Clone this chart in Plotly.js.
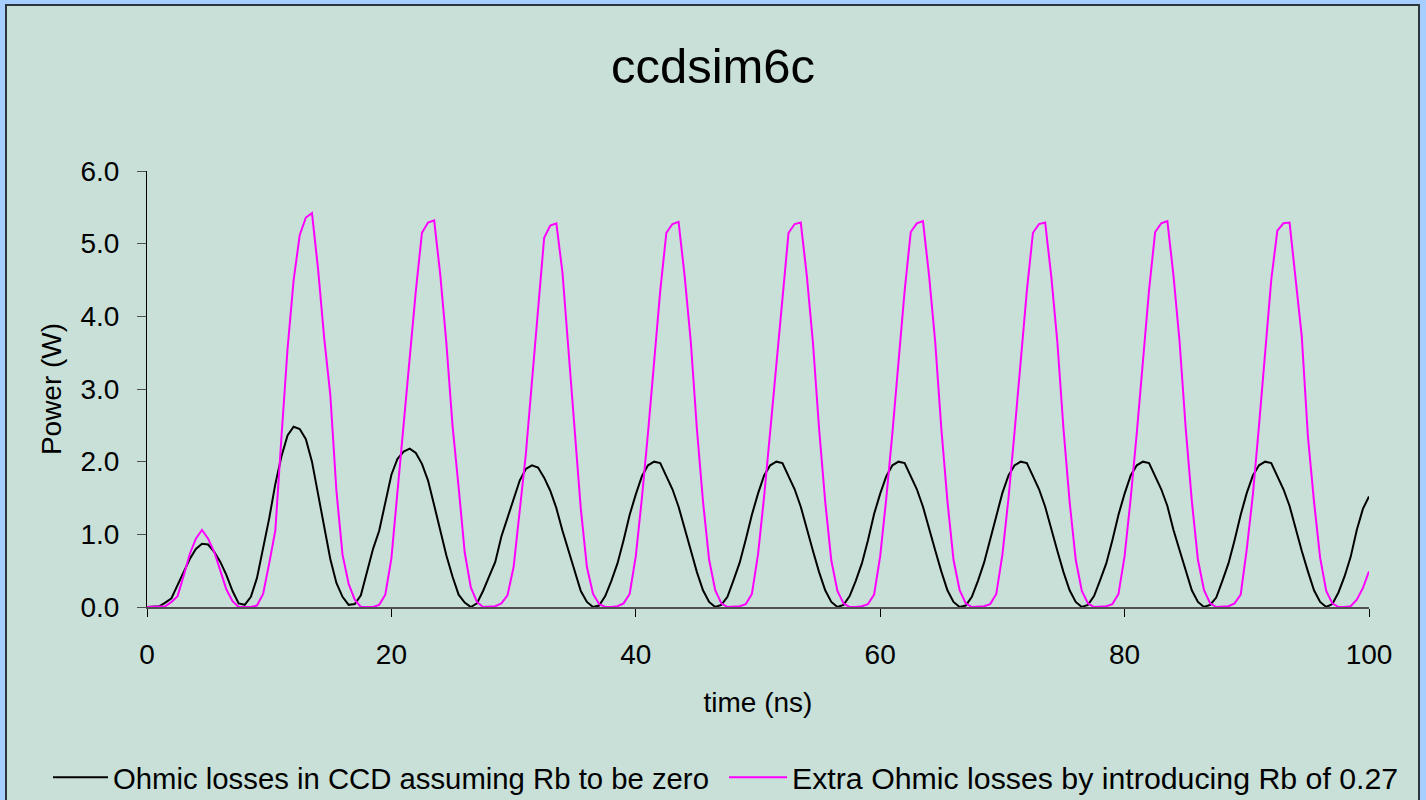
<!DOCTYPE html>
<html>
<head>
<meta charset="utf-8">
<script src="https://cdn.plot.ly/plotly-3.0.1.min.js"></script>
<style>
  html, body { margin: 0; padding: 0; background: #A6CFFF; }
  #chart { width: 1426px; height: 800px; }
</style>
</head>
<body>
<div id="chart"></div>
<script>
// time axis (ns)
const timeNs = [
  0,0.5,1,1.5,2,2.5,3,3.5,4,4.5,5,5.5,6,6.5,7,7.5,8,8.5,9,9.5,
  10,10.5,11,11.5,12,12.5,13,13.5,14,14.5,15,15.5,16,16.5,17,17.5,18,18.5,19,19.5,
  20,20.5,21,21.5,22,22.5,23,23.5,24,24.5,25,25.5,26,26.5,27,27.5,28,28.5,29,29.5,
  30,30.5,31,31.5,32,32.5,33,33.5,34,34.5,35,35.5,36,36.5,37,37.5,38,38.5,39,39.5,
  40,40.5,41,41.5,42,42.5,43,43.5,44,44.5,45,45.5,46,46.5,47,47.5,48,48.5,49,49.5,
  50,50.5,51,51.5,52,52.5,53,53.5,54,54.5,55,55.5,56,56.5,57,57.5,58,58.5,59,59.5,
  60,60.5,61,61.5,62,62.5,63,63.5,64,64.5,65,65.5,66,66.5,67,67.5,68,68.5,69,69.5,
  70,70.5,71,71.5,72,72.5,73,73.5,74,74.5,75,75.5,76,76.5,77,77.5,78,78.5,79,79.5,
  80,80.5,81,81.5,82,82.5,83,83.5,84,84.5,85,85.5,86,86.5,87,87.5,88,88.5,89,89.5,
  90,90.5,91,91.5,92,92.5,93,93.5,94,94.5,95,95.5,96,96.5,97,97.5,98,98.5,99,99.5,
  100
];

// Ohmic losses in CCD assuming Rb to be zero (W)
const ohmicZeroRb = [
  0,0,0.01,0.06,0.12,0.3,0.47,0.66,0.8,0.87,0.86,0.76,0.62,0.44,0.22,0.05,0.03,0.14,0.4,0.8,
  1.22,1.69,2.07,2.36,2.48,2.45,2.31,2.0,1.55,1.12,0.66,0.33,0.14,0.03,0.04,0.16,0.47,0.8,1.05,1.42,
  1.82,2.04,2.14,2.18,2.12,1.97,1.74,1.4,1.04,0.71,0.42,0.17,0.06,0.0,0.05,0.22,0.42,0.62,0.97,1.23,
  1.5,1.74,1.9,1.95,1.92,1.78,1.6,1.36,1.05,0.77,0.47,0.22,0.07,0.0,0.02,0.15,0.36,0.6,0.92,1.27,
  1.55,1.8,1.95,2.0,1.98,1.8,1.62,1.38,1.06,0.78,0.48,0.23,0.07,0.0,0.03,0.14,0.37,0.61,0.93,1.27,
  1.56,1.81,1.95,2.0,1.98,1.81,1.62,1.38,1.06,0.77,0.48,0.23,0.07,0.0,0.03,0.15,0.36,0.6,0.92,1.28,
  1.56,1.8,1.95,2.0,1.98,1.8,1.62,1.38,1.07,0.78,0.49,0.23,0.07,0.0,0.02,0.14,0.36,0.61,0.93,1.27,
  1.57,1.81,1.95,2.0,1.98,1.8,1.62,1.38,1.06,0.77,0.48,0.23,0.07,0.0,0.03,0.15,0.37,0.6,0.92,1.27,
  1.56,1.81,1.95,2.0,1.98,1.81,1.62,1.39,1.06,0.78,0.49,0.23,0.07,0.0,0.03,0.13,0.36,0.6,0.92,1.27,
  1.57,1.81,1.95,2.0,1.98,1.8,1.62,1.39,1.06,0.77,0.49,0.23,0.07,0.0,0.04,0.2,0.42,0.69,1.06,1.35,
  1.52
];

// Extra Ohmic losses by introducing Rb of 0.27 (W)
const extraOhmicRb = [
  0,0,0,0.01,0.07,0.15,0.43,0.73,0.94,1.06,0.94,0.76,0.5,0.24,0.08,0.0,0,0,0.02,0.18,
  0.6,1.05,2.33,3.55,4.5,5.12,5.36,5.42,4.65,3.7,2.92,1.6,0.72,0.32,0.1,0.0,0,0,0.03,0.17,
  0.67,1.6,2.6,3.43,4.35,5.15,5.29,5.32,4.57,3.63,2.5,1.65,0.75,0.27,0.07,0.0,0,0.01,0.05,0.16,
  0.55,1.3,2.1,3.1,4.1,5.08,5.25,5.28,4.6,3.55,2.48,1.35,0.55,0.18,0.04,0.0,0,0.01,0.05,0.18,
  0.7,1.5,2.4,3.35,4.35,5.15,5.27,5.3,4.55,3.65,2.45,1.45,0.65,0.23,0.05,0.0,0,0.01,0.04,0.18,
  0.72,1.52,2.42,3.35,4.33,5.15,5.27,5.29,4.55,3.63,2.45,1.45,0.64,0.22,0.05,0.0,0,0.01,0.04,0.17,
  0.7,1.5,2.4,3.37,4.35,5.16,5.28,5.31,4.56,3.65,2.46,1.46,0.65,0.23,0.05,0.0,0,0.01,0.04,0.18,
  0.72,1.5,2.42,3.35,4.35,5.15,5.27,5.29,4.55,3.64,2.45,1.45,0.65,0.22,0.05,0.0,0,0.01,0.04,0.18,
  0.7,1.5,2.4,3.36,4.36,5.16,5.28,5.31,4.56,3.65,2.46,1.46,0.65,0.23,0.05,0.0,0,0.01,0.05,0.17,
  0.8,1.55,2.5,3.45,4.5,5.18,5.28,5.29,4.5,3.72,2.35,1.45,0.68,0.22,0.05,0.0,0,0.01,0.1,0.26,
  0.49
];

const seriesNames = [
  "Ohmic losses in CCD assuming Rb to be zero",
  "Extra Ohmic losses by introducing Rb of 0.27"
];
const chartTitle = "ccdsim6c";
const xTitle = "time (ns)";
const yTitle = "Power (W)";

const FONT = "Liberation Sans, Arial, sans-serif";

const traces = [
  {
    x: timeNs, y: ohmicZeroRb, name: seriesNames[0], type: "scatter", mode: "lines",
    line: { color: "#000000", width: 2 }, legend: "legend"
  },
  {
    x: timeNs, y: extraOhmicRb, name: seriesNames[1], type: "scatter", mode: "lines",
    line: { color: "#FF00FF", width: 2 }, legend: "legend2"
  }
];

const layout = {
  width: 1426, height: 800,
  margin: { l: 147, r: 57, t: 171, b: 193 },
  paper_bgcolor: "#A6CFFF",
  plot_bgcolor: "rgba(0,0,0,0)",
  font: { family: FONT, color: "#000000", size: 28 },
  title: {
    text: chartTitle,
    font: { family: FONT, size: 49, color: "#000000" },
    x: 0.5, xref: "container", xanchor: "center",
    y: 0.918, yref: "container", yanchor: "middle"
  },
  showlegend: true,
  legend: {
    orientation: "h",
    xref: "container", x: 48 / 1426, xanchor: "left",
    yref: "container", y: 0.028, yanchor: "middle",
    font: { family: FONT, size: 29.3, color: "#000000" },
    bgcolor: "rgba(0,0,0,0)",
    itemwidth: 55
  },
  legend2: {
    orientation: "h",
    xref: "container", x: 724 / 1426, xanchor: "left",
    yref: "container", y: 0.028, yanchor: "middle",
    font: { family: FONT, size: 30.3, color: "#000000" },
    bgcolor: "rgba(0,0,0,0)",
    itemwidth: 58
  },
  xaxis: {
    range: [0, 100], dtick: 20, tick0: 0,
    showgrid: false, zeroline: false,
    showline: true, linecolor: "#505050", linewidth: 2,
    ticks: "outside", ticklen: 8, tickcolor: "#000000", tickwidth: 1,
    ticklabelstandoff: 13,
    tickfont: { family: FONT, size: 28, color: "#000000" },
    title: { text: xTitle, font: { family: FONT, size: 28, color: "#000000" }, standoff: 24 },
    fixedrange: true
  },
  yaxis: {
    range: [0, 6], dtick: 1, tick0: 0, tickformat: ".1f",
    showgrid: false, zeroline: false,
    showline: true, linecolor: "#000000", linewidth: 1,
    ticks: "outside", ticklen: 9, tickcolor: "#505050", tickwidth: 1,
    ticklabelstandoff: 12,
    tickfont: { family: FONT, size: 28, color: "#000000" },
    title: { text: yTitle, font: { family: FONT, size: 28, color: "#000000" }, standoff: 10 },
    fixedrange: true
  },
  shapes: [
    {
      type: "rect", layer: "below",
      xref: "paper", yref: "paper",
      x0: (6 - 147) / 1222, x1: (1419 - 147) / 1222,
      y0: (607 - 810) / 436, y1: (607 - 5) / 436,
      fillcolor: "#C8E0D8",
      line: { color: "#2B353A", width: 2 }
    }
  ]
};

Plotly.newPlot("chart", traces, layout, { displayModeBar: false, staticPlot: true });
</script>
</body>
</html>
